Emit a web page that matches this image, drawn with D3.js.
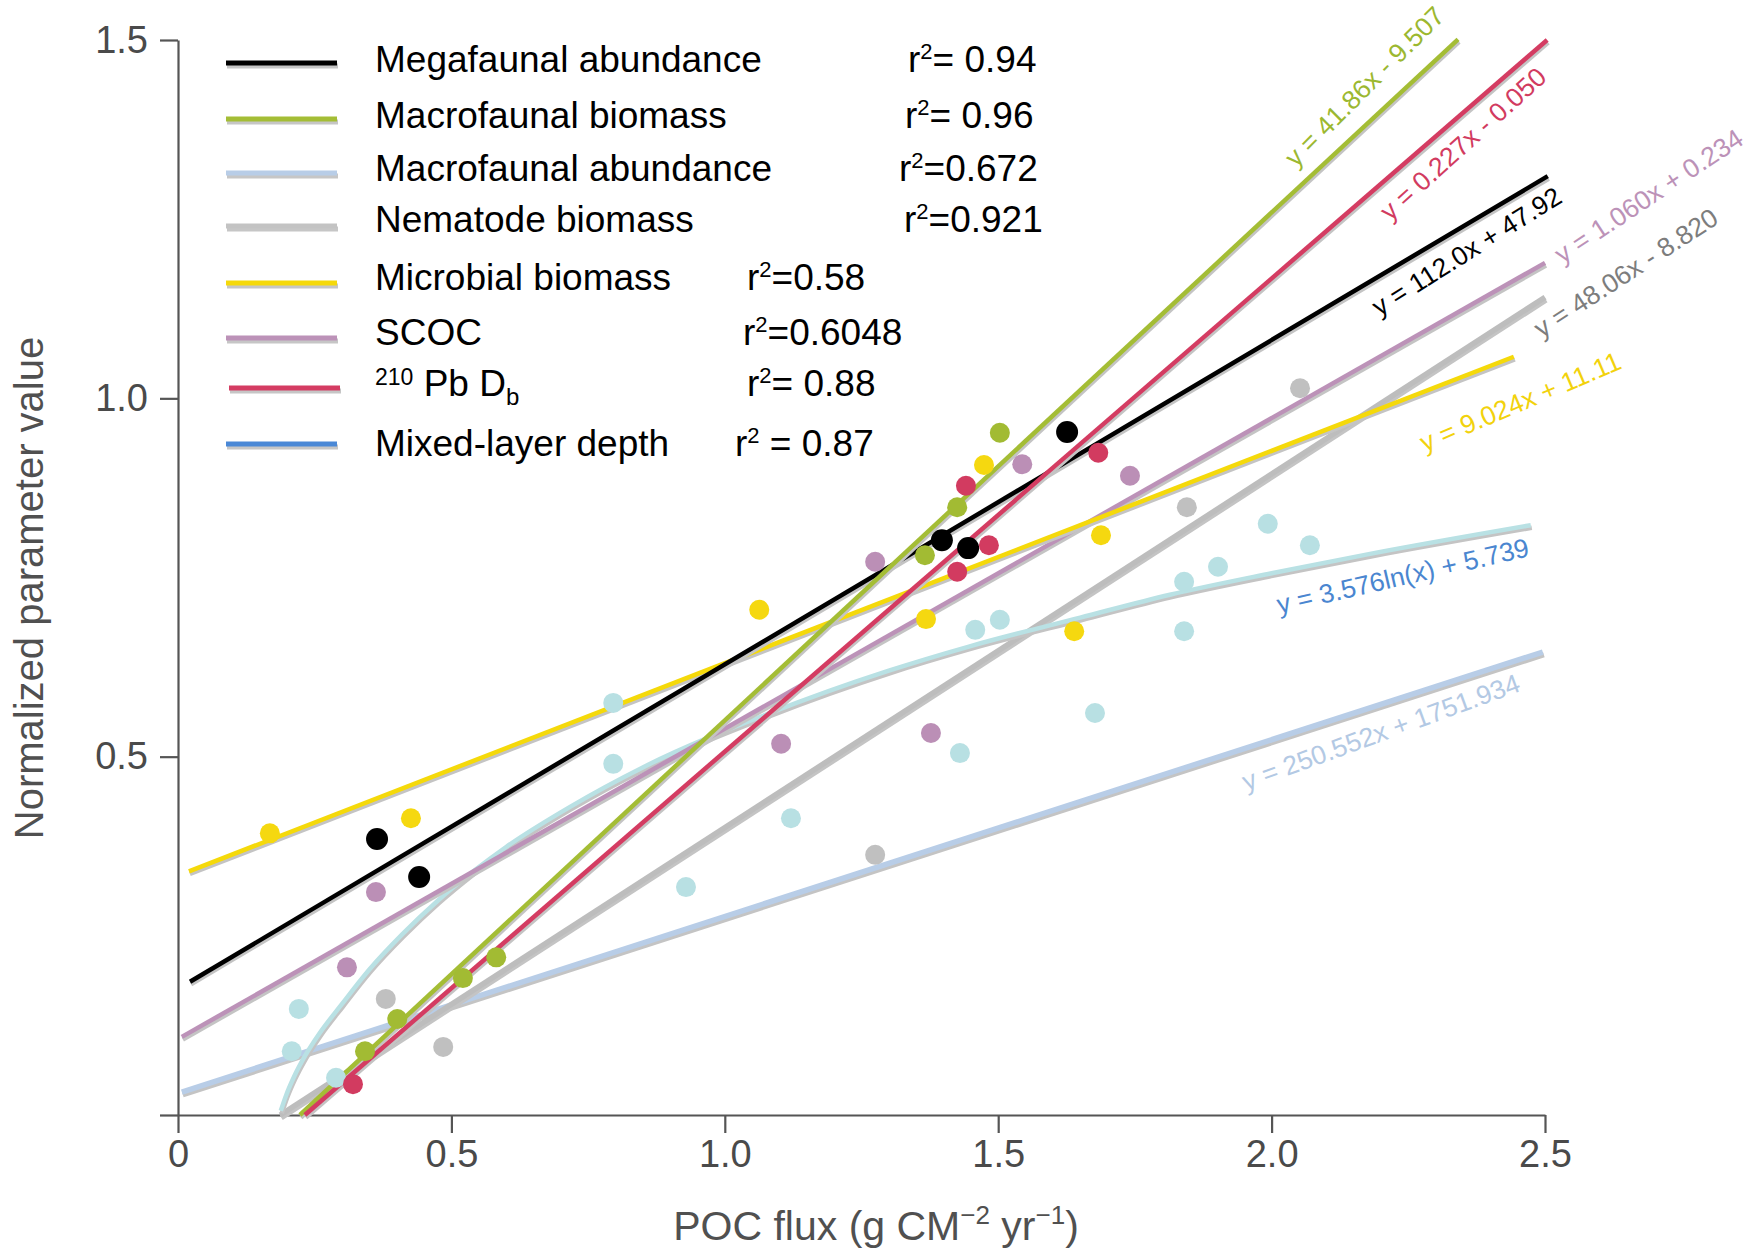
<!DOCTYPE html>
<html>
<head>
<meta charset="utf-8">
<script src="https://cdn.jsdelivr.net/npm/d3@7"></script>
<style>
  body { margin: 0; background: #fff; }
  svg text { font-family: "Liberation Sans", Arial, Helvetica, sans-serif; }
</style>
</head>
<body>
<svg id="chart" width="1758" height="1249"></svg>
<script>
// ---- values ----
var legendNames = ["Megafaunal abundance", "Macrofaunal biomass", "Macrofaunal abundance", "Nematode biomass",
                   "Microbial biomass", "SCOC", "Pb D", "Mixed-layer depth"];
var legendR2 = ["= 0.94", "= 0.96", "=0.672", "=0.921", "=0.58", "=0.6048", "= 0.88", " = 0.87"];

var xTicks = [0, 0.5, 1, 1.5, 2, 2.5];
var xTickLabels = ["0", "0.5", "1.0", "1.5", "2.0", "2.5"];
var yTicks = [0, 0.5, 1, 1.5];
var yTickLabels = ["", "0.5", "1.0", "1.5"];

// points [POC flux, normalized value]
var megaAbund = [[0.364, 0.385], [0.441, 0.332], [1.397, 0.802], [1.445, 0.791], [1.626, 0.953]];
var macroBio  = [[0.342, 0.089], [0.401, 0.134], [0.521, 0.191], [0.582, 0.220], [1.366, 0.781], [1.425, 0.848], [1.503, 0.952]];
var pbDb      = [[0.320, 0.043], [1.425, 0.758], [1.441, 0.878], [1.483, 0.795], [1.683, 0.924]];
var microBio  = [[0.168, 0.393], [0.426, 0.414], [1.063, 0.705], [1.368, 0.692], [1.474, 0.907], [1.639, 0.675], [1.688, 0.809]];
var scoc      = [[0.309, 0.206], [0.362, 0.311], [1.103, 0.518], [1.275, 0.772], [1.377, 0.533], [1.544, 0.908], [1.741, 0.892]];
var nemaBio   = [[0.380, 0.162], [0.485, 0.095], [1.275, 0.363], [1.845, 0.848], [2.052, 1.014]];
var mixedPts  = [[0.208, 0.089], [0.221, 0.148], [0.289, 0.052], [0.796, 0.575], [0.796, 0.490], [0.929, 0.318],
                 [1.121, 0.414], [1.430, 0.505], [1.458, 0.677], [1.503, 0.691], [1.677, 0.561], [1.840, 0.675],
                 [1.840, 0.744], [1.902, 0.765], [1.993, 0.825], [2.070, 0.795]];

// fitted lines, end points
var megaFit   = [[0.022, 0.186], [2.505, 1.310]];
var macroFit  = [[0.223, 0.0], [2.341, 1.501]];
var pbFit     = [[0.232, 0.0], [2.504, 1.500]];
var scocFit   = [[0.007, 0.109], [2.500, 1.189]];
var nemaFit   = [[0.187, 0.0], [2.500, 1.141]];
var microFit  = [[0.020, 0.340], [2.443, 1.058]];
var macroAbFit = [[0.007, 0.032], [2.496, 0.646]];
// log curve
var mixedCurve = [[0.188, 0.006], [0.198, 0.028], [0.212, 0.053], [0.232, 0.082], [0.258, 0.113], [0.300, 0.155],
                  [0.350, 0.203], [0.410, 0.252], [0.475, 0.299], [0.540, 0.340], [0.600, 0.374], [0.717, 0.430],
                  [0.850, 0.485], [1.083, 0.561], [1.300, 0.620], [1.448, 0.654], [1.650, 0.694], [1.814, 0.726],
                  [2.000, 0.756], [2.180, 0.783], [2.474, 0.823]];

var eqTexts = ["y = 41.86x - 9.507", "y = 0.227x - 0.050", "y = 112.0x + 47.92", "y = 1.060x + 0.234",
               "y = 48.06x - 8.820", "y = 9.024x + 11.11", "y = 3.576ln(x) + 5.739", "y = 250.552x + 1751.934"];

// ---- layout ----
var legendLineY = [63, 119, 173, 226, 283, 338, 388, 444];
var legendTextY = [72, 128, 181, 232, 290, 345, 396, 456];
var r2X = [908, 905, 899, 904, 747, 743, 747, 735];
// equation label centre (data units) and angle
var eqPlace = [[2.170, 1.435, -45], [2.350, 1.355, -42], [2.357, 1.205, -32], [2.690, 1.282, -33.5],
               [2.648, 1.175, -33], [2.455, 0.995, -23], [2.240, 0.752, -13], [2.200, 0.534, -20]];
var eqColors = ["#9cb830", "#d23b60", "#000", "#bc92b8", "#7d7d7d", "#f2d20c", "#4a86d0", "#b3c9e4"];
var legendColors = ["#000", "#a4bd35", "#b8cde7", "#c3c3c3", "#f5d90a", "#bc92b8", "#d43c62", "#4a88d6"];

var svg = d3.select("#chart");
var x = d3.scaleLinear().domain([0, 2.5]).range([178, 1545]);
var y = d3.scaleLinear().domain([0, 1.5]).range([1115, 40]);
var line = d3.line().x(function (d) { return x(d[0]); }).y(function (d) { return y(d[1]); });

svg.append("rect").attr("width", 1758).attr("height", 1249).attr("fill", "#fff");

// axes
var axG = svg.append("g").attr("class", "axes");
axG.append("g").attr("transform", "translate(178,0)")
  .call(d3.axisLeft(y).tickValues(yTicks).tickSize(18).tickSizeOuter(0).tickPadding(12)
    .tickFormat(function (d, i) { return yTickLabels[i]; }));
axG.append("g").attr("transform", "translate(0,1115)")
  .call(d3.axisBottom(x).tickValues(xTicks).tickSize(18).tickSizeOuter(0).tickPadding(7)
    .tickFormat(function (d, i) { return xTickLabels[i]; }));
axG.selectAll(".domain, .tick line").attr("stroke", "#555").attr("stroke-width", 2.2);
axG.selectAll(".tick text").attr("font-size", 38).attr("fill", "#4a4a4a")
  .attr("font-family", "'Liberation Sans', Arial, sans-serif");

svg.append("text").attr("transform", "translate(43,588) rotate(-90)")
  .attr("text-anchor", "middle").attr("font-size", 40).attr("fill", "#505050")
  .text("Normalized parameter value");

var xt = svg.append("text").attr("x", 876).attr("y", 1240).attr("text-anchor", "middle")
  .attr("font-size", 41).attr("fill", "#505050");
xt.append("tspan").text("POC flux (g CM");
xt.append("tspan").attr("font-size", 26).attr("dy", -16).text("\u22122");
xt.append("tspan").attr("dy", 16).text(" yr");
xt.append("tspan").attr("font-size", 26).attr("dy", -16).text("\u22121");
xt.append("tspan").attr("dy", 16).text(")");

// fitted lines with their grey drop shadow
var fitG = svg.append("g");
function shadowed(d, color, w) {
  fitG.append("path").datum(d).attr("d", line).attr("transform", "translate(1,2.6)")
    .attr("fill", "none").attr("stroke", "#c4c4c4").attr("stroke-width", w);
  fitG.append("path").datum(d).attr("d", line)
    .attr("fill", "none").attr("stroke", color).attr("stroke-width", w);
}
line.curve(d3.curveLinear);
shadowed(macroAbFit, "#b8cde7", 5.5);
shadowed(nemaFit, "#bdbdbd", 5.5);
line.curve(d3.curveMonotoneX);
shadowed(mixedCurve, "#b9e1e4", 4.5);
line.curve(d3.curveLinear);
shadowed(scocFit, "#bc92b8", 4.5);
shadowed(microFit, "#f5d90a", 4.5);
shadowed(megaFit, "#000", 4.5);
shadowed(macroFit, "#a4bd35", 4.5);
shadowed(pbFit, "#d43c62", 4.5);

// points
var ptsG = svg.append("g");
function dots(d, color, r) {
  ptsG.selectAll(null).data(d).enter().append("circle")
    .attr("cx", function (p) { return x(p[0]); })
    .attr("cy", function (p) { return y(p[1]); })
    .attr("r", r).attr("fill", color);
}
dots(mixedPts, "#b8e0e3", 10);
dots(nemaBio, "#c0c0c0", 10);
dots(scoc, "#bb8fb6", 10);
dots(microBio, "#f5d810", 10);
dots(megaAbund, "#000", 11);
dots(macroBio, "#a2bb33", 10);
dots(pbDb, "#d23b60", 10);

// equation labels
svg.append("g").selectAll("text").data(eqTexts).enter().append("text")
  .attr("transform", function (d, i) {
    var p = eqPlace[i];
    return "translate(" + x(p[0]) + "," + y(p[1]) + ") rotate(" + p[2] + ")";
  })
  .attr("text-anchor", "middle").attr("dominant-baseline", "central")
  .attr("font-size", 26.5).attr("fill", function (d, i) { return eqColors[i]; })
  .text(function (d) { return d; });

// legend
var lg = svg.append("g");
legendNames.forEach(function (name, i) {
  var x0 = i === 6 ? 229 : 226, x1 = i === 6 ? 340 : 337;
  lg.append("line").attr("x1", x0 + 1).attr("x2", x1 + 1)
    .attr("y1", legendLineY[i] + 3).attr("y2", legendLineY[i] + 3)
    .attr("stroke", "#c6c6c6").attr("stroke-width", 5);
  lg.append("line").attr("x1", x0).attr("x2", x1)
    .attr("y1", legendLineY[i]).attr("y2", legendLineY[i])
    .attr("stroke", legendColors[i]).attr("stroke-width", 5);

  var t = lg.append("text").attr("x", 375).attr("y", legendTextY[i]).attr("font-size", 37).attr("fill", "#000");
  if (i === 6) {
    t.attr("y", 396);
    t.append("tspan").attr("font-size", 23).attr("dy", -11).text("210");
    t.append("tspan").attr("dy", 11).text(" " + name);
    t.append("tspan").attr("font-size", 24).attr("dy", 9).text("b");
  } else {
    t.text(name);
  }

  var r = lg.append("text").attr("x", r2X[i]).attr("y", legendTextY[i]).attr("font-size", 37).attr("fill", "#000");
  r.append("tspan").text("r");
  r.append("tspan").attr("font-size", 22).attr("dy", -13).text("2");
  r.append("tspan").attr("dy", 13).text(legendR2[i]);
});
</script>
</body>
</html>
